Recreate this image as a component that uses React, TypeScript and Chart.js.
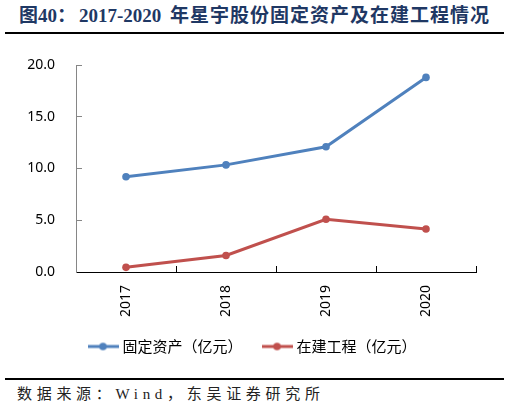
import React, { useEffect, useRef } from 'react';
import Chart from 'chart.js/auto';

const years = ['2017', '2018', '2019', '2020'];
const fixedAssets = [9.2, 10.35, 12.1, 18.8];
const construction = [0.45, 1.6, 5.1, 4.15];
const yTicks = [0, 5, 10, 15, 20];

const BLUE = '#4F81BD';
const RED = '#C0504D';
const NUM_FONT = '"Noto Sans", "Open Sans", sans-serif';
const CJK_FONT = '"Noto Sans CJK SC", "Noto Sans", sans-serif';

// legend marker: short line with a dot in the middle
const makeMarker = (color: string) => {
  const c = document.createElement('canvas');
  c.width = 31;
  c.height = 10;
  const ctx = c.getContext('2d')!;
  ctx.strokeStyle = color;
  ctx.lineWidth = 3;
  ctx.beginPath();
  ctx.moveTo(0, 5);
  ctx.lineTo(31, 5);
  ctx.stroke();
  ctx.fillStyle = color;
  ctx.beginPath();
  ctx.arc(15.5, 5, 3.8, 0, Math.PI * 2);
  ctx.fill();
  return c;
};

const LineChart = () => {
  const canvasRef = useRef<HTMLCanvasElement>(null);

  useEffect(() => {
    const markers = [makeMarker(BLUE), makeMarker(RED)];
    const chart = new Chart(canvasRef.current!, {
      type: 'line',
      data: {
        labels: years,
        datasets: [
          {
            label: '固定资产（亿元）',
            data: fixedAssets,
            borderColor: BLUE,
            backgroundColor: BLUE,
            borderWidth: 3,
            pointRadius: 3.8,
            pointBorderWidth: 0,
            pointBackgroundColor: BLUE,
          },
          {
            label: '在建工程（亿元）',
            data: construction,
            borderColor: RED,
            backgroundColor: RED,
            borderWidth: 3,
            pointRadius: 3.8,
            pointBorderWidth: 0,
            pointBackgroundColor: RED,
          },
        ],
      },
      options: {
        animation: false,
        responsive: true,
        maintainAspectRatio: false,
        layout: { padding: { top: 25, right: 34, left: 0, bottom: 0 } },
        plugins: {
          tooltip: { enabled: false },
          legend: {
            position: 'bottom',
            fullSize: false,
            align: 'start',
            labels: {
              usePointStyle: true,
              pointStyleWidth: 24,
              padding: 15,
              color: '#000',
              font: { family: CJK_FONT, size: 15 },
              generateLabels: (ch: any) =>
                Chart.defaults.plugins.legend.labels
                  .generateLabels(ch)
                  .map((item: any, i: number) => ({
                    ...item,
                    pointStyle: markers[i],
                    // extra room between the two legend entries
                    text: i === 0 ? item.text + '\u3000' : item.text,
                  })),
            },
          },
        },
        scales: {
          x: {
            offset: true,
            grid: { offset: true, drawOnChartArea: false, tickLength: -6, color: '#000' },
            border: { color: '#000', width: 1 },
            ticks: {
              minRotation: 90,
              maxRotation: 90,
              padding: 19,
              color: '#000',
              font: { family: NUM_FONT, size: 14 },
            },
            afterFit: (s: any) => {
              s.height = 52;
              s.paddingLeft = 0;
              s.paddingRight = 0;
            },
          },
          y: {
            min: 0,
            max: 20,
            afterBuildTicks: (s: any) => { s.ticks = yTicks.map(v => ({ value: v })); },
            grid: { drawOnChartArea: false, tickLength: -6, color: '#868686' },
            border: { color: '#868686', width: 1 },
            ticks: {
              padding: 27,
              color: '#000',
              font: { family: NUM_FONT, size: 14 },
              callback: (v: any) => Number(v).toFixed(1),
            },
            afterFit: (s: any) => {
              s.width = 76;
              s.paddingTop = 8;
              s.paddingBottom = 8;
            },
          },
        },
      },
    });
    return () => chart.destroy();
  }, []);

  return <canvas ref={canvasRef} />;
};

const App = () => {
  return (
    <div style={{ position: 'absolute', left: 0, top: 0, width: 510, height: 412, background: '#fff', overflow: 'hidden' }}>
      <div
        style={{
          position: 'absolute', left: 19, top: 6, lineHeight: '20px', fontSize: 19, fontWeight: 'bold',
          color: '#1F3864', whiteSpace: 'nowrap', fontFamily: '"Liberation Serif", "Noto Sans CJK SC", serif',
        }}
      >
        图40：<span style={{ marginLeft: 3 }}>2017-2020</span>{' '}
        <span style={{ marginLeft: 4, letterSpacing: 1 }}>年星宇股份固定资产及在建工程情况</span>
      </div>
      <div style={{ position: 'absolute', left: 5, top: 32, width: 499, height: 2, background: '#000' }} />
      <div style={{ position: 'absolute', left: 0, top: 40, width: 510, height: 324 }}>
        <LineChart />
      </div>
      <div style={{ position: 'absolute', left: 5, top: 378, width: 499, height: 2, background: '#000' }} />
      <div
        style={{
          position: 'absolute', left: 17, top: 384, lineHeight: '20px', fontSize: 15, letterSpacing: 4.7,
          color: '#222', whiteSpace: 'nowrap', fontFamily: '"Liberation Serif", "Noto Sans CJK SC", serif',
        }}
      >
        数据来源：Wind，东吴证券研究所
      </div>
    </div>
  );
};

export default App;
